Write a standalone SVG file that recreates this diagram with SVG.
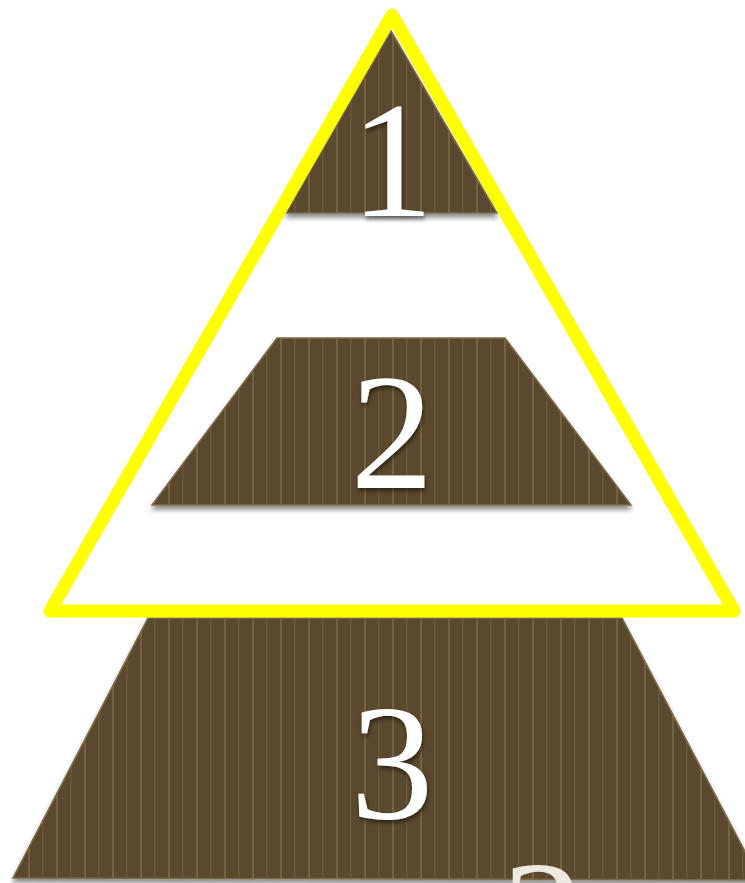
<svg xmlns="http://www.w3.org/2000/svg" width="745" height="883" viewBox="0 0 745 883">
  <defs>
    <pattern id="stripes" patternUnits="userSpaceOnUse" width="28" height="10">
      <rect width="28" height="10" fill="#5a4a2e"/>
      <rect x="0" width="2" height="10" fill="#75633f"/>
      <rect x="14" width="1.5" height="10" fill="#6a5836"/>
    </pattern>
    <filter id="shadow" x="-10%" y="-10%" width="120%" height="130%">
      <feDropShadow dx="0" dy="4" stdDeviation="2.5" flood-color="#000" flood-opacity="0.45"/>
    </filter>
    <filter id="tshadow" x="-20%" y="-20%" width="140%" height="140%">
      <feDropShadow dx="1" dy="3" stdDeviation="2" flood-color="#000" flood-opacity="0.5"/>
    </filter>
  </defs>
  <style>
    .tier { fill: url(#stripes); stroke: #7d6b4b; stroke-width: 1.5; filter: url(#shadow); }
    .num { font-family: "Liberation Serif", "DejaVu Serif", serif; font-size: 166px; fill: #ffffff; text-anchor: middle; filter: url(#tshadow); }
    .frame { fill: none; stroke: #ffff00; stroke-width: 13; stroke-linejoin: round; }
  </style>
  <rect width="745" height="883" fill="#ffffff"/>
  <g id="tier3">
    <polygon class="tier" points="148,618 622,618 760,880 13,878"/>
    <text class="num" x="392" y="818">3</text>
    <text x="543" y="974" font-family="Liberation Serif, DejaVu Serif, serif" font-size="166" fill="#ede9df" text-anchor="middle">3</text>
  </g>
  <g id="tier2">
    <polygon class="tier" points="277,338 505,338 631,505 152,505"/>
    <text class="num" x="392" y="488">2</text>
  </g>
  <g id="tier1">
    <polygon class="tier" points="391,31 497,213 286,213"/>
    <text class="num" x="392" y="216">1</text>
  </g>
  <g id="frame">
    <polygon class="frame" points="392,15 734,611 50,611"/>
  </g>
  <g id="connectors"/>
</svg>
